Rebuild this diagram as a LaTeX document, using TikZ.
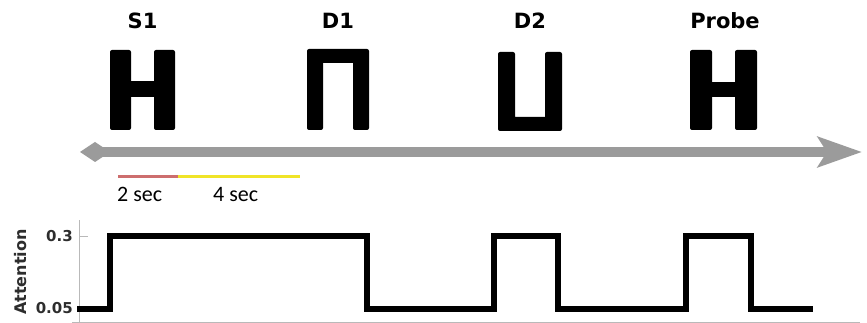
\documentclass[tikz,border=0pt]{standalone}
\usepackage{fontspec}
\usetikzlibrary{arrows.meta}
\newfontfamily\stimfont{DejaVu Sans}
\newfontfamily\secfont{Carlito}
\definecolor{timegray}{RGB}{155,155,155}
\definecolor{axisgray}{RGB}{185,185,185}
\definecolor{barred}{RGB}{205,110,110}
\definecolor{baryellow}{RGB}{240,228,40}
\definecolor{ticktext}{RGB}{45,45,45}

\begin{document}
\begin{tikzpicture}[
			x=1pt, y=-1pt,
			stim label/.style={inner sep=0pt, font=\stimfont\bfseries\fontsize{21}{21}\selectfont},
			glyph/.style={fill=black, rounded corners=2pt},
			timeline/.style={draw=timegray, line width=10pt, {Diamond[length=30pt,width=20pt,fill=timegray]}-{Stealth[length=44pt,width=30pt,inset=9pt,fill=timegray]}},
			time bar/.style={line width=3pt},
			sec label/.style={inner sep=0pt, font=\secfont\fontsize{22}{22}\selectfont},
			tick label/.style={inner sep=0pt, text=ticktext, font=\stimfont\bfseries\fontsize{15}{15}\selectfont},
			axis line/.style={draw=axisgray, line width=1pt},
			signal/.style={line width=5.5pt, line join=miter}
			]
			\useasboundingbox (0,0) rectangle (867,323);
			
			% stimulus labels
			\node[stim label] (s1) at (142.5,21) {S1};
			\node[stim label] (d1) at (338,21) {D1};
			\node[stim label] (d2) at (530,21) {D2};
			\node[stim label] (probe) at (725,21) {Probe};
			
			% stimulus shapes
			\fill[glyph] (110,50) rectangle (131,130);
			\fill[glyph] (154,50) rectangle (175,130);
			\fill (130,81) rectangle (155,97);
			\fill[glyph] (307,130) -- (307,49) -- (369,49) -- (369,130) -- (353,130) [sharp corners] -- (353,63) -- (323,63) [rounded corners=2pt] -- (323,130) -- cycle;
			\fill[glyph] (498,52) -- (498,131) -- (562,131) -- (562,52) -- (545,52) [sharp corners] -- (545,117) -- (515,117) [rounded corners=2pt] -- (515,52) -- cycle;
			\fill[glyph] (690,50) rectangle (712,130);
			\fill[glyph] (735,50) rectangle (757,130);
			\fill (711,82) rectangle (736,97);
			
			% time line
			\coordinate (tl start) at (80,152);
			\coordinate (tl end) at (862,152);
			\draw[timeline] (tl start) -- (tl end);
			
			% durations
			\coordinate (bar a) at (118,177);
			\coordinate (bar b) at (178,177);
			\coordinate (bar c) at (300,177);
			\draw[time bar, barred] (bar a) -- (bar b);
			\draw[time bar, baryellow] (bar b) -- (bar c);
			\node[sec label, anchor=base west] (two sec) at (117,202) {2 sec};
			\node[sec label, anchor=base west] (four sec) at (213,202) {4 sec};
			
			% attention plot
			\coordinate (y top) at (79,220);
			\coordinate (origin) at (79,322);
			\coordinate (x end) at (860,322);
			\draw[axis line] (y top) -- (origin);
			\draw[axis line] (72,322) -- (x end);
			\draw[axis line] (79,236) -- (88,236);
			\draw[axis line] (79,308) -- (88,308);
			\node[tick label, anchor=east] (high) at (73,236) {0.3};
			\node[tick label, anchor=east] (low) at (73,308) {0.05};
			\node[inner sep=0pt, rotate=90, font=\stimfont\bfseries\fontsize{16}{16}\selectfont, text=ticktext] (att) at (21,272) {Attention};
			\draw[signal] (77,309) -| (110,236) -| (367,309) -| (494,236) -| (558,309) -| (686,236) -| (751,309) -- (813,309);
		\end{tikzpicture}
\end{document}
